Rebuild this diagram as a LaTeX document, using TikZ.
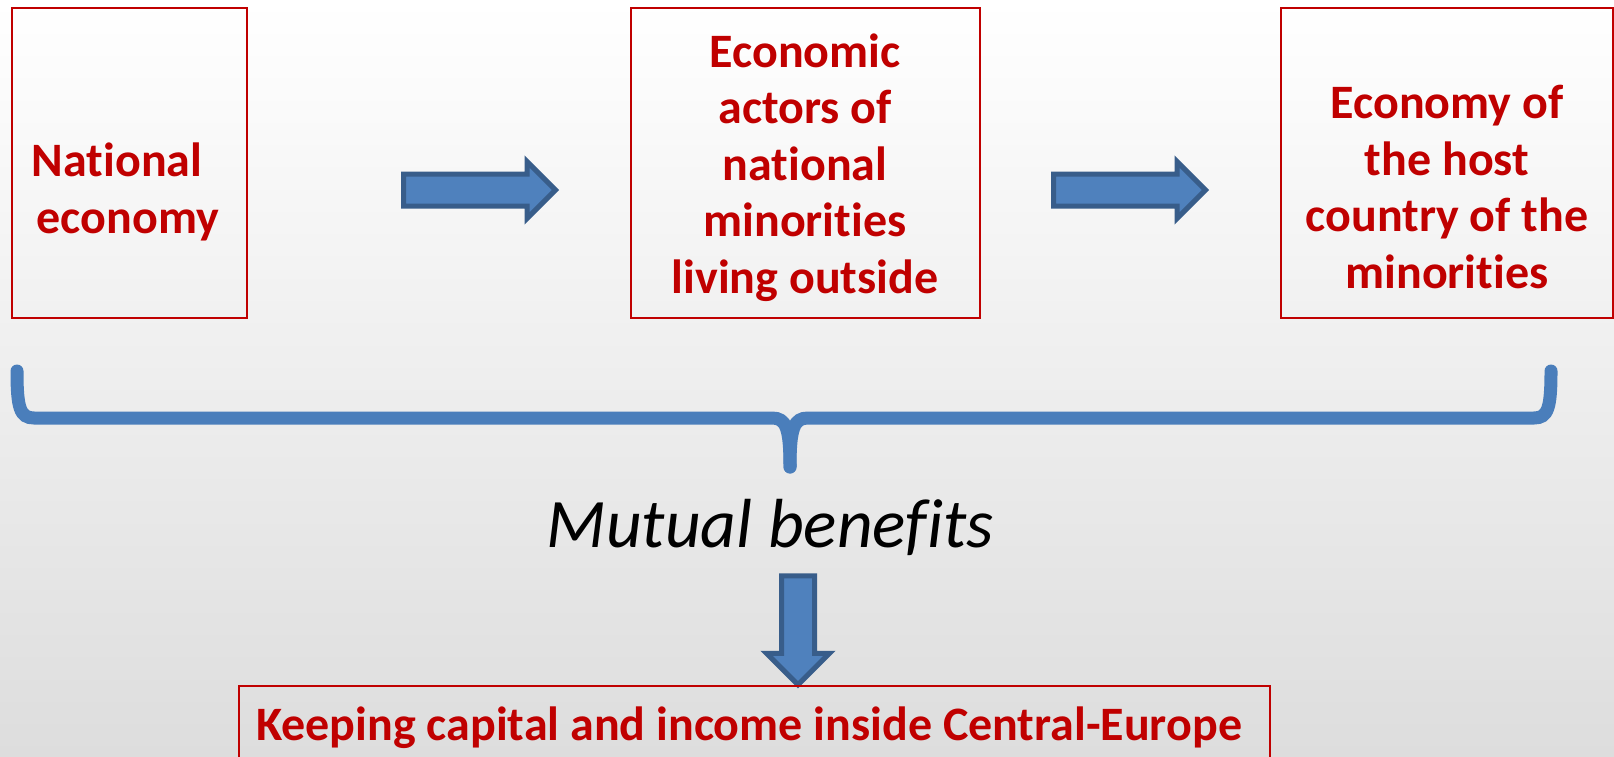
\documentclass[tikz,border=0pt]{standalone}
\usepackage{fontspec}
\setmainfont{Carlito}[Ligatures=NoCommon]
\usepackage{tikz}
\usetikzlibrary{shapes.arrows}

\definecolor{darkred}{HTML}{C00000}
\definecolor{arrowfill}{HTML}{4F81BD}
\definecolor{arrowline}{HTML}{385D8A}
\definecolor{bracecol}{HTML}{4A7EBB}
\definecolor{bgbottom}{HTML}{DDDDDD}

\tikzset{
    redbox/.style={draw=darkred, line width=2pt, minimum width=#1, minimum height=310pt, inner sep=0pt},
    boxtext/.style={text=darkred, font=\fontsize{48}{56.5}\selectfont\bfseries, align=center, anchor=base, inner sep=0pt},
    blockarrow/.style={single arrow, draw=arrowline, fill=arrowfill, line width=5pt, minimum height=#1,
        inner xsep=0pt, inner ysep=13.5pt, single arrow head extend=12.5pt, single arrow head indent=0pt}
}

\begin{document}
\begin{tikzpicture}[x=1pt,y=-1pt]
    % background
    \clip (0,0) rectangle (1614,757);
    \shade[top color=white, bottom color=bgbottom] (0,0) rectangle (1614,757);

    % draw boxes
    \node[redbox=235pt] (nat) at (129.3,162.7) {};
    \node[redbox=349pt] (actors) at (805.5,163) {};
    \node[redbox=332pt] (host) at (1447,163) {};

    % draw box texts (base = last line)
    \node[boxtext] (nattext) at (128,233) {National\rule{22pt}{0pt}\\economy};
    \node[boxtext] (actorstext) at (805,293) {Economic\\actors of\\national\\minorities\\living outside};
    \node[boxtext] (hosttext) at (1447,288) {Economy of\\the host\\country of the\\minorities};

    % draw arrows between boxes
    \node[blockarrow=152pt] (arrA) at (471.5,190) {};
    \node[blockarrow=152pt] (arrB) at (1121.5,190) {};

    % draw brace
    \draw[bracecol, line width=13pt, line cap=round]
        (17,371) .. controls (17,408) and (20,418) .. (34,418) -- (772,418)
        .. controls (786,418) and (790,428) .. (790,467);
    \draw[bracecol, line width=13pt, line cap=round]
        (1551,371) .. controls (1551,408) and (1548,418) .. (1534,418) -- (808,418)
        .. controls (794,418) and (790,428) .. (790,467);

    % draw result
    \node[anchor=base, inner sep=0pt, font=\fontsize{69.5}{80}\selectfont\itshape] (mutual) at (770,547) {Mutual benefits};
    \node[blockarrow=109pt, inner sep=14pt, single arrow head extend=15pt, shape border rotate=270] (arrDown) at (798,622) {};
    \node[redbox=1031pt, minimum height=140pt, anchor=north] (keep) at (754.5,685) {};
    \node[boxtext] (keeptext) at (749,740) {Keeping capital and income inside Central-Europe};
\end{tikzpicture}
\end{document}
